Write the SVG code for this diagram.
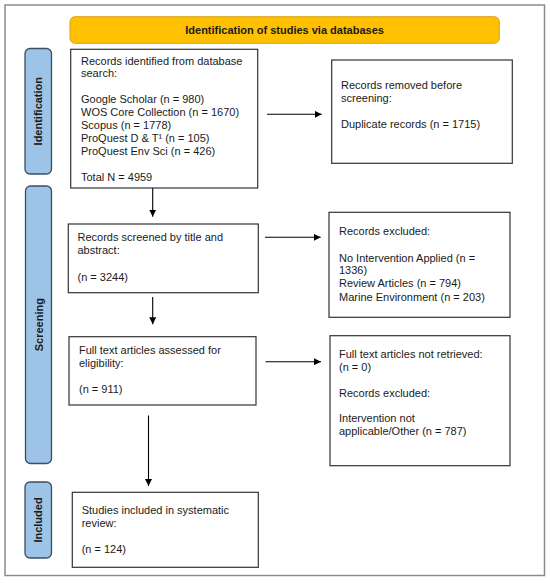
<svg xmlns="http://www.w3.org/2000/svg" width="550" height="583" viewBox="0 0 550 583">
<defs>
<style>
text{font-family:"Liberation Sans",Arial,sans-serif;font-size:11px;fill:#1a1a1a}
.box{fill:#fff;stroke:#333;stroke-width:1.2}
.side{fill:#9DC3E6;stroke:#3b4f63;stroke-width:1.3}
.sidet{font-weight:bold;text-anchor:middle}
.conn{stroke:#000;stroke-width:1.1;fill:none;marker-end:url(#ah)}
</style>
<marker id="ah" viewBox="0 0 10 10" refX="10" refY="5" markerWidth="7" markerHeight="7" markerUnits="userSpaceOnUse" orient="auto">
<path d="M0,0 L10,5 L0,10 z" fill="#000"/>
</marker>
</defs>
<rect x="0" y="0" width="550" height="583" fill="#fff"/>
<rect id="frame" x="5" y="5" width="539.5" height="570.5" fill="#fff" stroke="#8c8c8c" stroke-width="1.5"/>
<g id="banner">
<rect x="70" y="16.7" width="429.3" height="26.6" rx="5" fill="#FFC000" stroke="#D6A31C" stroke-width="1"/>
<text x="284.6" y="33.8" font-weight="bold" text-anchor="middle">Identification of studies via databases</text>
</g>
<g id="label-identification">
<rect class="side" x="25" y="48.5" width="26.5" height="125.5" rx="5"/>
<text class="sidet" transform="translate(42.2,111.2) rotate(-90)">Identification</text>
</g>
<g id="label-screening">
<rect class="side" x="25.5" y="186" width="26" height="277.5" rx="5"/>
<text class="sidet" transform="translate(42.5,324.7) rotate(-90)">Screening</text>
</g>
<g id="label-included">
<rect class="side" x="25" y="482" width="26.5" height="76" rx="5"/>
<text class="sidet" transform="translate(42.2,520) rotate(-90)">Included</text>
</g>
<g id="node-identified">
<rect class="box" x="70.7" y="49.3" width="187" height="138.7"/>
<text x="81" y="64.5">Records identified from database</text>
<text x="81" y="77.4">search:</text>
<text x="81" y="103.2">Google Scholar (n = 980)</text>
<text x="81" y="116.1">WOS Core Collection (n = 1670)</text>
<text x="81" y="129">Scopus (n = 1778)</text>
<text x="81" y="141.9">ProQuest D &amp; T¹ (n = 105)</text>
<text x="81" y="154.8">ProQuest Env Sci (n = 426)</text>
<text x="81" y="180.6">Total N = 4959</text>
</g>
<g id="node-removed">
<rect class="box" x="331.7" y="60" width="180.6" height="103.3"/>
<text x="341" y="89.3">Records removed before</text>
<text x="341" y="102">screening:</text>
<text x="341" y="127.8">Duplicate records (n = 1715)</text>
</g>
<g id="node-screened">
<rect class="box" x="68.3" y="224" width="190" height="68.7"/>
<text x="77.5" y="240.7">Records screened by title and</text>
<text x="77.5" y="253.5">abstract:</text>
<text x="77.5" y="281">(n = 3244)</text>
</g>
<g id="node-excluded">
<rect class="box" x="329" y="212.3" width="181" height="105"/>
<text x="339" y="235">Records excluded:</text>
<text x="339" y="261.5">No Intervention Applied (n =</text>
<text x="339" y="274.3">1336)</text>
<text x="339" y="287.3">Review Articles (n = 794)</text>
<text x="339" y="300.5">Marine Environment (n = 203)</text>
</g>
<g id="node-fulltext">
<rect class="box" x="69" y="336.7" width="187" height="68.3"/>
<text x="79" y="354">Full text articles assessed for</text>
<text x="79" y="367">eligibility:</text>
<text x="79" y="393.3">(n = 911)</text>
</g>
<g id="node-notretrieved">
<rect class="box" x="330" y="335.7" width="180" height="130"/>
<text x="339" y="358.3">Full text articles not retrieved:</text>
<text x="339" y="371.3">(n = 0)</text>
<text x="339" y="396.7">Records excluded:</text>
<text x="339" y="421.7">Intervention not</text>
<text x="339" y="434.5">applicable/Other (n = 787)</text>
</g>
<g id="node-included">
<rect class="box" x="72.3" y="492.3" width="186" height="75"/>
<text x="81.7" y="514.3">Studies included in systematic</text>
<text x="81.7" y="527">review:</text>
<text x="81.7" y="552.7">(n = 124)</text>
</g>
<g id="connectors">
<line class="conn" x1="267" y1="114.3" x2="321.7" y2="114.3"/>
<line class="conn" x1="152.7" y1="188" x2="152.7" y2="216.7"/>
<line class="conn" x1="265" y1="237.3" x2="320.7" y2="237.3"/>
<line class="conn" x1="152.7" y1="297" x2="152.7" y2="324.3"/>
<line class="conn" x1="265.5" y1="361.7" x2="321" y2="361.7"/>
<line class="conn" x1="148.5" y1="415.5" x2="148.5" y2="486"/>
</g>
</svg>
